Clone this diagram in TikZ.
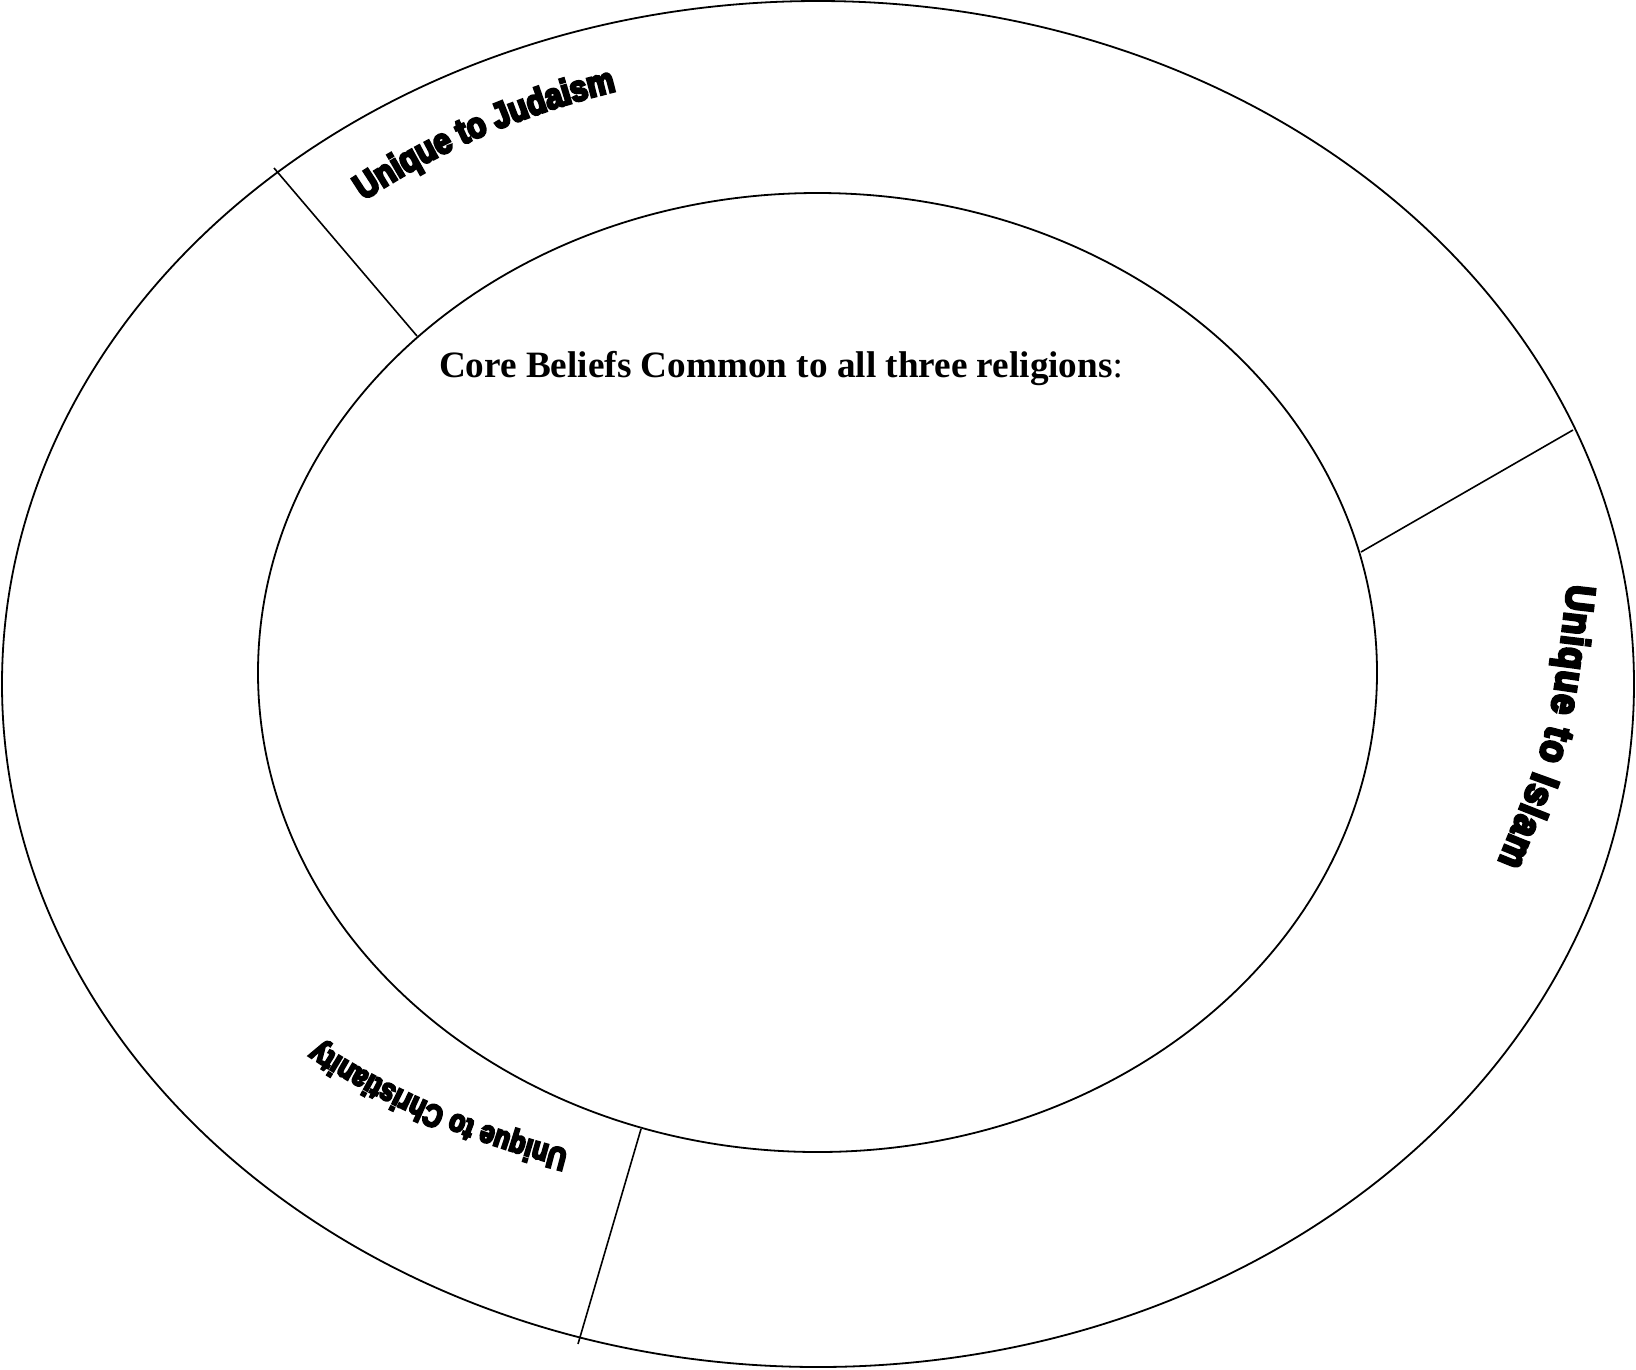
\documentclass[tikz,border=0pt]{standalone}
\usepackage{fontspec}
\setmainfont{Liberation Serif}
\newfontfamily\wafontJ{Liberation Sans}[BoldFeatures={FakeBold=7,FakeStretch=0.86}]
\newfontfamily\wafontI{Liberation Sans}[BoldFeatures={FakeBold=7,FakeStretch=0.9}]
\newfontfamily\wafontC{Liberation Sans}[BoldFeatures={FakeBold=7,FakeStretch=0.82}]
\usetikzlibrary{decorations.text,calc}
\begin{document}
\begin{tikzpicture}[x=1pt,y=1pt,
  ring/.style={draw=black,line width=1.8pt},
  divider/.style={draw=black,line width=1.6pt},
  title/.style={font=\fontsize{37.2}{40}\selectfont, inner sep=0pt, anchor=base}]
\useasboundingbox (0,0) rectangle (1636,-1369);
% ellipses
\coordinate (oc) at (818,-684);
\coordinate (ic) at (817.5,-672.5);
\coordinate (tcj) at (818,-688);
\coordinate (tcc) at (818,-682);
\draw[ring] (oc) ellipse[x radius=816pt, y radius=683pt];
\draw[ring] (ic) ellipse[x radius=559.5pt, y radius=479.5pt];
% dividers
\coordinate (d1o) at (274,-168);
\coordinate (d1i) at (417,-336);
\coordinate (d2o) at (1573,-430);
\coordinate (d2i) at (1361,-552);
\coordinate (d3i) at (641,-1129);
\coordinate (d3o) at (578,-1344);
\draw[divider] (d1o) -- (d1i);
\draw[divider] (d2o) -- (d2i);
\draw[divider] (d3i) -- (d3o);
% title
\node[title] (core) at (781,-377) {\textbf{Core Beliefs Common to all three religions}:};
% curved labels
\path[decorate, decoration={text along path, text align={fit to path},
   text={|\wafontJ\bfseries\fontsize{36}{36}\selectfont|Unique to Judaism}}]
  ($(tcj)+(128.3:733pt and 621pt)$) arc[start angle=128.3, end angle=106, x radius=733pt, y radius=621pt];
\coordinate (iS) at (1568,-584);
\coordinate (iP) at (1551,-732);
\coordinate (iE) at (1498,-862);
\path[decorate, decoration={text along path, text align={fit to path},
   text={|\wafontI\bfseries\fontsize{40}{40}\selectfont|Unique to Islam}}]
  (iS) .. controls (iP) and (iP) .. (iE);
\path[decorate, decoration={text along path, text align={fit to path},
   text={|\wafontC\bfseries\fontsize{31.5}{31.5}\selectfont|Unique to Christianity}}]
  ($(tcc)+(249.8:723pt and 498.7pt)$) arc[start angle=249.8, end angle=226.2, x radius=723pt, y radius=498.7pt];
\end{tikzpicture}
\end{document}
